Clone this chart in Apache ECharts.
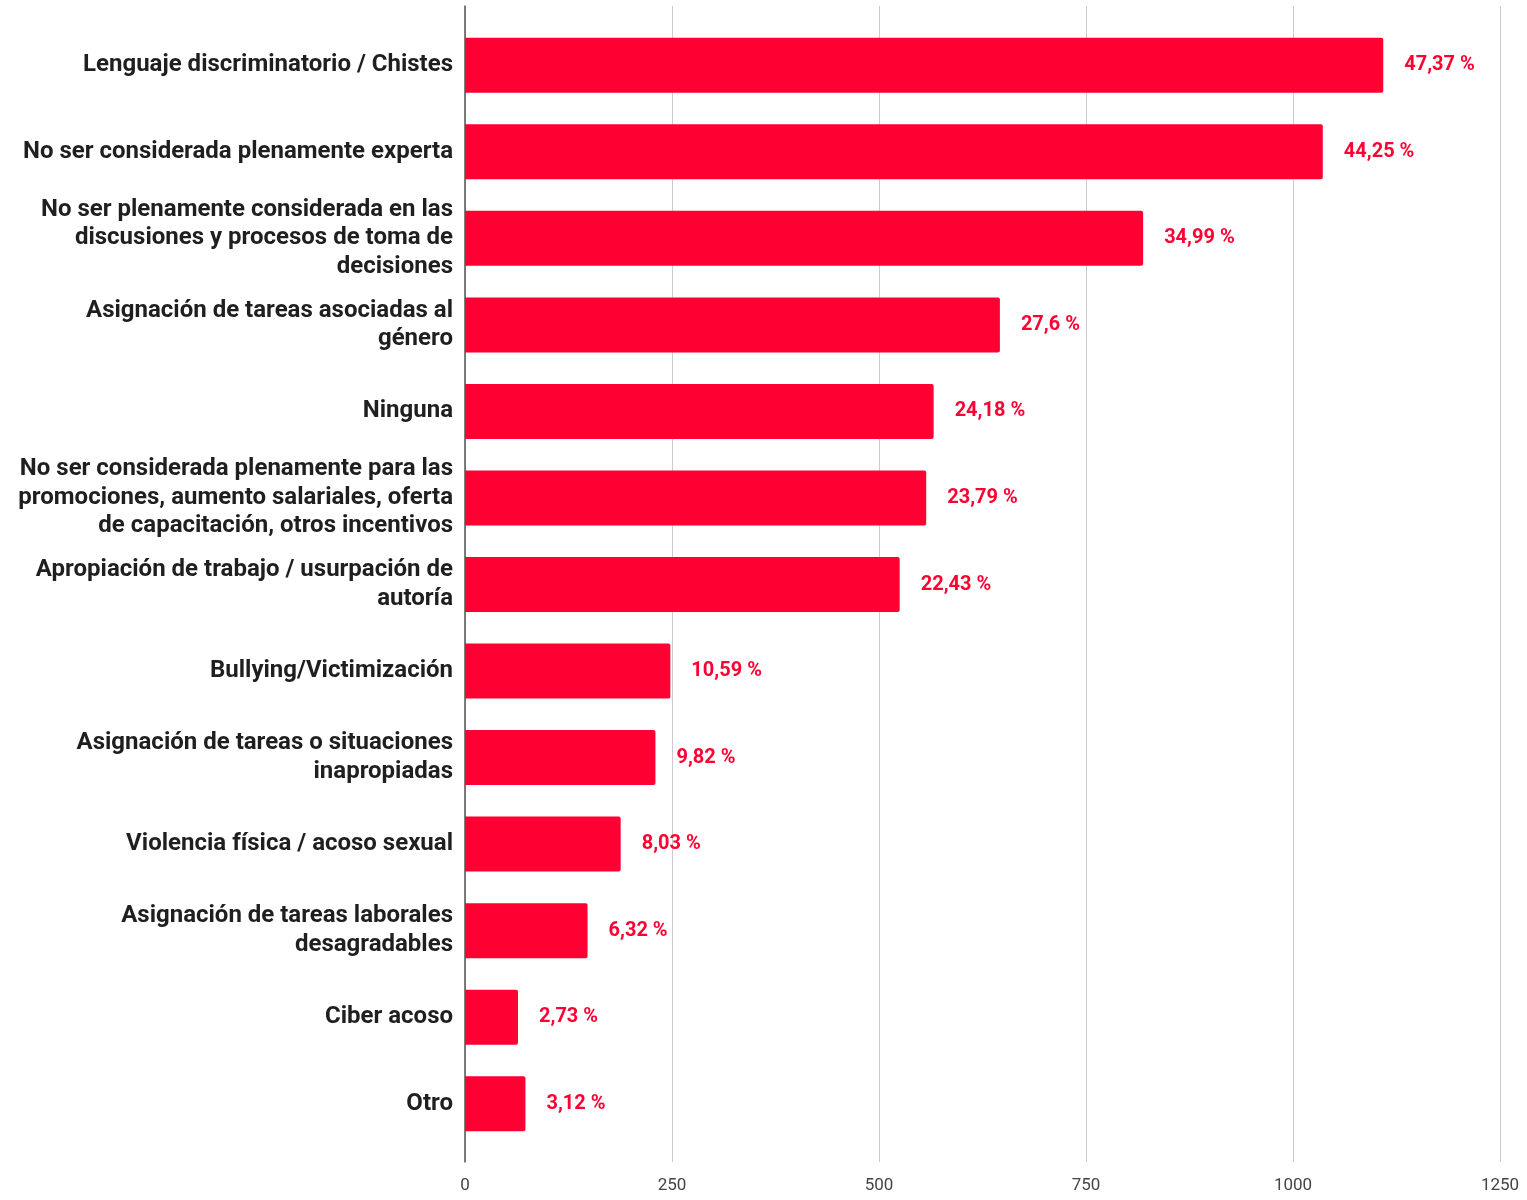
<!DOCTYPE html>
<html>
<head>
<meta charset="utf-8">
<script src="https://cdn.jsdelivr.net/npm/echarts@6/dist/echarts.min.js"></script>
<style>
html,body{margin:0;padding:0;background:#fff;}
#chart{width:1527px;height:1200px;}
</style>
</head>
<body>
<div id="chart"></div>
<script>
const categories = [
  "Lenguaje discriminatorio / Chistes",
  "No ser considerada plenamente experta",
  "No ser plenamente considerada en las\ndiscusiones y procesos de toma de\ndecisiones",
  "Asignación de tareas asociadas al\ngénero",
  "Ninguna",
  "No ser considerada plenamente para las\npromociones, aumento salariales, oferta\nde capacitación, otros incentivos",
  "Apropiación de trabajo / usurpación de\nautoría",
  "Bullying/Victimización",
  "Asignación de tareas o situaciones\ninapropiadas",
  "Violencia física / acoso sexual",
  "Asignación de tareas laborales\ndesagradables",
  "Ciber acoso",
  "Otro"
];
const counts = [1109, 1036, 819, 646, 566, 557, 525, 248, 230, 188, 148, 64, 73];
const percentLabels = ["47,37 %", "44,25 %", "34,99 %", "27,6 %", "24,18 %", "23,79 %", "22,43 %", "10,59 %", "9,82 %", "8,03 %", "6,32 %", "2,73 %", "3,12 %"];
const xTicks = { min: 0, max: 1250, interval: 250 };

const RED = '#ff0033';
const chart = echarts.init(document.getElementById('chart'), null, { renderer: 'canvas' });
chart.setOption({
  animation: false,
  backgroundColor: '#ffffff',
  textStyle: { fontFamily: 'Roboto' },
  grid: [
    { left: 465, right: 27, top: 6, bottom: 38 },
    { left: 465, right: 27, top: 22, bottom: 53 }
  ],
  xAxis: [
    {
      gridIndex: 0, type: 'value', min: xTicks.min, max: xTicks.max, interval: xTicks.interval,
      axisLine: { show: false }, axisTick: { show: false },
      splitLine: { show: true, lineStyle: { color: '#cccccc', width: 1 } },
      axisLabel: { color: '#444444', fontSize: 17, margin: 15, fontFamily: 'Roboto', formatter: v => String(v) }
    },
    {
      gridIndex: 1, type: 'value', min: xTicks.min, max: xTicks.max, show: false
    }
  ],
  yAxis: [
    {
      gridIndex: 0, type: 'value', min: 0, max: 1,
      axisLine: { show: true, lineStyle: { color: '#555555', width: 1.5 } },
      axisTick: { show: false }, axisLabel: { show: false }, splitLine: { show: false }
    },
    {
      gridIndex: 1, type: 'category', data: categories, inverse: true,
      axisLine: { show: false }, axisTick: { show: false },
      axisLabel: {
        color: '#1f1f1f', fontSize: 24, fontWeight: 'bold', fontFamily: 'Roboto',
        margin: 12, align: 'right', lineHeight: 28.5, padding: [4, 0, 0, 0]
      }
    }
  ],
  series: [{
    type: 'bar',
    xAxisIndex: 1, yAxisIndex: 1,
    data: counts,
    barWidth: 55,
    itemStyle: { color: RED, borderRadius: [0, 2, 2, 0] },
    label: {
      show: true, position: 'right', distance: 21,
      formatter: p => percentLabels[p.dataIndex],
      color: RED, fontSize: 20, fontWeight: 'bold', fontFamily: 'Roboto',
      padding: [4, 0, 0, 0]
    }
  }]
});
</script>
</body>
</html>
